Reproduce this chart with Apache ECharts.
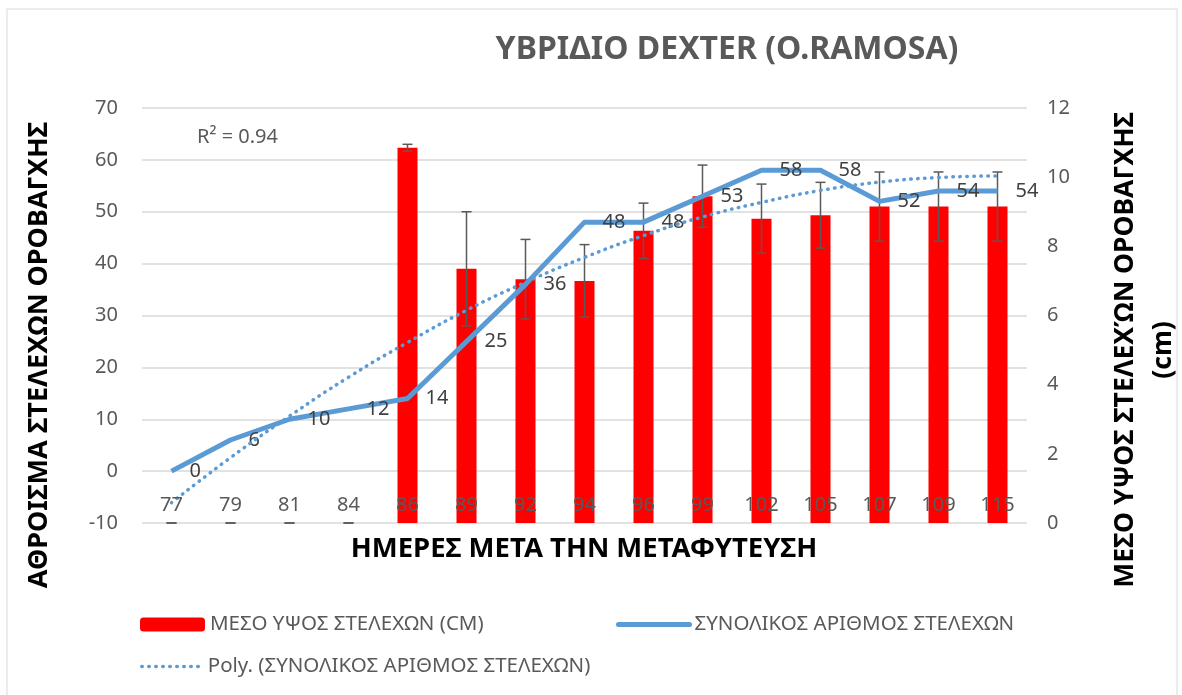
<!DOCTYPE html>
<html>
<head>
<meta charset="utf-8">
<script src="https://cdn.jsdelivr.net/npm/echarts@6/dist/echarts.min.js"></script>
<style>
  html, body { margin: 0; padding: 0; background: #fff; }
  #chart { width: 1182px; height: 695px; }
</style>
</head>
<body>
<div id="chart"></div>
<script>
const days = ['77', '79', '81', '84', '86', '89', '92', '94', '96', '99', '102', '105', '107', '109', '115']
const stemCount = [0, 6, 10, 12, 14, 25, 36, 48, 48, 53, 58, 58, 52, 54, 54]
const stemTrend = [-6.1, 2.6, 10.6, 18.1, 24.8, 31.0, 36.4, 41.2, 45.4, 49.0, 51.8, 54.1, 55.7, 56.6, 56.9]
const stemHeight = [0, 0, 0, 0, 10.85, 7.35, 7.05, 7.0, 8.45, 9.45, 8.8, 8.9, 9.15, 9.15, 9.15]
const stemHeightErr = [0, 0, 0, 0, 0.1, 1.65, 1.15, 1.05, 0.8, 0.9, 1.0, 0.95, 1.0, 1.0, 1.0]

const FONT = '"Noto Sans", sans-serif'
const GREY = '#595959'
const BLUE = '#5B9BD5'

const barName = 'ΜΕΣΟ ΥΨΟΣ ΣΤΕΛΕΧΩΝ (CM)'
const lineName = 'ΣΥΝΟΛΙΚΟΣ ΑΡΙΘΜΟΣ ΣΤΕΛΕΧΩΝ'
const trendName = 'Poly. (ΣΥΝΟΛΙΚΟΣ ΑΡΙΘΜΟΣ ΣΤΕΛΕΧΩΝ)'

const chart = echarts.init(document.getElementById('chart'))

function renderErrorBar(params, api) {
  const x = api.value(0)
  const y = api.value(1)
  const e = api.value(2)
  const hi = api.coord([x, y + e])
  const lo = api.coord([x, y - e])
  const w = 5
  const style = { stroke: GREY, lineWidth: 1.5 }
  return {
    type: 'group',
    children: [
      { type: 'line', shape: { x1: hi[0], y1: hi[1], x2: lo[0], y2: lo[1] }, style },
      { type: 'line', shape: { x1: hi[0] - w, y1: hi[1], x2: hi[0] + w, y2: hi[1] }, style },
      { type: 'line', shape: { x1: lo[0] - w, y1: lo[1], x2: lo[0] + w, y2: lo[1] }, style },
    ],
  }
}

const legendText = { color: GREY, fontSize: 20.5, fontFamily: FONT }
const dotted = [0.5, 6.5]

chart.setOption({
  animation: false,
  textStyle: { fontFamily: FONT },
  grid: { left: 142, right: 155, top: 108, bottom: 172 },
  legend: [
    { data: [barName], left: 135, top: 609, itemWidth: 65, itemHeight: 14, textStyle: legendText },
    {
      data: [lineName], left: 611, top: 609, itemWidth: 71, itemHeight: 14, textStyle: legendText,
      itemStyle: { opacity: 0 },
      lineStyle: { width: 5, cap: 'round' },
    },
    {
      data: [trendName], left: 135, top: 651, itemWidth: 61, itemHeight: 14, textStyle: legendText,
      itemStyle: { opacity: 0 },
      lineStyle: { width: 3.5, type: dotted, cap: 'round' },
    },
  ],
  xAxis: {
    type: 'category',
    data: days,
    z: 10,
    axisLine: { show: false, onZero: false },
    axisTick: { show: false },
    axisLabel: { inside: true, margin: 8, color: GREY, fontSize: 20 },
  },
  yAxis: [
    {
      type: 'value',
      min: -10,
      max: 70,
      interval: 10,
      axisLine: { show: false },
      axisTick: { show: false },
      axisLabel: { color: GREY, fontSize: 20, margin: 24 },
      splitLine: { lineStyle: { color: '#D9D9D9', width: 1.5 } },
    },
    {
      type: 'value',
      min: 0,
      max: 12,
      interval: 2,
      position: 'right',
      axisLine: { show: false },
      axisTick: { show: false },
      axisLabel: { color: GREY, fontSize: 20, margin: 20 },
      splitLine: { show: false },
    },
  ],
  series: [
    {
      name: barName,
      type: 'bar',
      yAxisIndex: 1,
      data: stemHeight,
      barWidth: 20,
      itemStyle: { color: '#FF0000' },
      z: 1,
    },
    {
      name: 'err',
      type: 'custom',
      yAxisIndex: 1,
      renderItem: renderErrorBar,
      data: stemHeight.map((v, i) => [i, v, stemHeightErr[i]]),
      z: 2,
    },
    {
      name: lineName,
      type: 'line',
      data: stemCount,
      symbol: 'circle',
      symbolSize: 0,
      showSymbol: true,
      lineStyle: { color: BLUE, width: 5 },
      itemStyle: { color: BLUE },
      label: { show: true, position: 'right', distance: 18, color: '#404040', fontSize: 20 },
      z: 3,
    },
    {
      name: trendName,
      type: 'line',
      data: stemTrend,
      smooth: true,
      symbol: 'none',
      lineStyle: { color: BLUE, width: 3.5, type: dotted, cap: 'round' },
      itemStyle: { color: BLUE },
      z: 4,
    },
  ],
  graphic: [
    {
      type: 'rect',
      shape: { x: 7, y: 9, width: 1170, height: 700 },
      style: { fill: 'none', stroke: '#D9D9D9', lineWidth: 1 },
      silent: true,
    },
    {
      type: 'text', x: 727, y: 50,
      style: { text: 'ΥΒΡΙΔΙΟ DEXTER (O.RAMOSA)', fill: GREY, font: 'bold 32px ' + FONT, textAlign: 'center', textVerticalAlign: 'middle' },
    },
    {
      type: 'text', x: 197, y: 137,
      style: { text: 'R² = 0.94', fill: GREY, font: '20px ' + FONT, textAlign: 'left', textVerticalAlign: 'middle' },
    },
    {
      type: 'text', x: 584, y: 549,
      style: { text: 'ΗΜΕΡΕΣ ΜΕΤΑ ΤΗΝ ΜΕΤΑΦΥΤΕΥΣΗ', fill: '#000', font: 'bold 27.5px ' + FONT, textAlign: 'center', textVerticalAlign: 'middle' },
    },
    {
      type: 'text', x: 39, y: 355, rotation: Math.PI / 2,
      style: { text: 'ΑΘΡΟΙΣΜΑ ΣΤΕΛΕΧΩΝ ΟΡΟΒΑΓΧΗΣ', fill: '#000', font: 'bold 27px ' + FONT, textAlign: 'center', textVerticalAlign: 'middle' },
    },
    {
      type: 'text', x: 1125, y: 350, rotation: Math.PI / 2,
      style: { text: 'ΜΕΣΟ ΥΨΟΣ ΣΤΕΛΕΧΏΝ ΟΡΟΒΑΓΧΗΣ', fill: '#000', font: 'bold 26.5px ' + FONT, textAlign: 'center', textVerticalAlign: 'middle' },
    },
    {
      type: 'text', x: 1163, y: 350, rotation: Math.PI / 2,
      style: { text: '(cm)', fill: '#000', font: 'bold 26.5px ' + FONT, textAlign: 'center', textVerticalAlign: 'middle' },
    },
  ],
})

window.addEventListener('resize', () => chart.resize())
</script>
</body>
</html>
